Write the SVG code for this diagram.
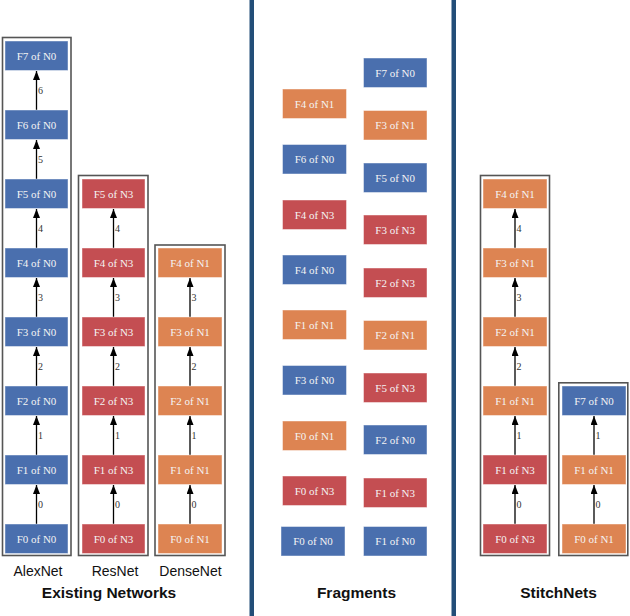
<svg xmlns="http://www.w3.org/2000/svg" width="630" height="616" viewBox="0 0 630 616">
<style>
.b{fill:#4a6fae}.r{fill:#c44e52}.o{fill:#dd8452}
rect.b,rect.r,rect.o{stroke:#ffffff;stroke-opacity:0.45;stroke-width:1}
.t{font-family:"Liberation Serif","Times New Roman",serif;font-size:11px;fill:#f4f4f4;text-anchor:middle}
.box{fill:none;stroke:#555;stroke-width:1.6}
.e{stroke:#000;stroke-width:1.3;marker-end:url(#ah)}
.el{font-family:"Liberation Serif","Times New Roman",serif;font-size:10px;fill:#333}
.lab{font-family:"Liberation Sans",Arial,sans-serif;font-size:14px;fill:#111;text-anchor:middle}
.ttl{font-family:"Liberation Sans",Arial,sans-serif;font-size:15.5px;font-weight:bold;fill:#111;text-anchor:middle}
.div{fill:#234e78}
</style>
<defs>
<marker id="ah" viewBox="0 0 9 7" refX="9" refY="3.5" markerWidth="9" markerHeight="7" markerUnits="userSpaceOnUse" orient="auto">
<path d="M0,0 L9,3.5 L0,7 z" fill="#000"/>
</marker>
</defs>
<rect width="630" height="616" fill="#fff"/>
<g id="dividers">
<rect class="div" x="249.5" y="0" width="4.5" height="616"/>
<rect class="div" x="451.5" y="0" width="4.5" height="616"/>
</g>
<g id="boxes">
<rect class="box" x="2.5" y="37.5" width="68.5" height="518"/>
<rect class="box" x="78.5" y="175.5" width="69.5" height="380"/>
<rect class="box" x="155" y="245" width="70" height="310.5"/>
<rect class="box" x="480.5" y="175.5" width="69" height="380"/>
<rect class="box" x="558.8" y="382.8" width="69" height="172.7"/>
</g>
<g id="connectors">
<line class="e" x1="36.5" y1="110" x2="36.5" y2="71"/><text class="el" x="38" y="93.5">6</text>
<line class="e" x1="36.5" y1="179" x2="36.5" y2="140"/><text class="el" x="38" y="162.5">5</text>
<line class="e" x1="36.5" y1="248" x2="36.5" y2="209"/><text class="el" x="38" y="231.5">4</text>
<line class="e" x1="36.5" y1="317" x2="36.5" y2="278"/><text class="el" x="38" y="300.5">3</text>
<line class="e" x1="36.5" y1="386" x2="36.5" y2="347"/><text class="el" x="38" y="369.5">2</text>
<line class="e" x1="36.5" y1="455" x2="36.5" y2="416"/><text class="el" x="38" y="438.5">1</text>
<line class="e" x1="36.5" y1="524" x2="36.5" y2="485"/><text class="el" x="38" y="507.5">0</text>
<line class="e" x1="113.5" y1="248" x2="113.5" y2="209"/><text class="el" x="115" y="231.5">4</text>
<line class="e" x1="113.5" y1="317" x2="113.5" y2="278"/><text class="el" x="115" y="300.5">3</text>
<line class="e" x1="113.5" y1="386" x2="113.5" y2="347"/><text class="el" x="115" y="369.5">2</text>
<line class="e" x1="113.5" y1="455" x2="113.5" y2="416"/><text class="el" x="115" y="438.5">1</text>
<line class="e" x1="113.5" y1="524" x2="113.5" y2="485"/><text class="el" x="115" y="507.5">0</text>
<line class="e" x1="190" y1="317" x2="190" y2="278"/><text class="el" x="191.5" y="300.5">3</text>
<line class="e" x1="190" y1="386" x2="190" y2="347"/><text class="el" x="191.5" y="369.5">2</text>
<line class="e" x1="190" y1="455" x2="190" y2="416"/><text class="el" x="191.5" y="438.5">1</text>
<line class="e" x1="190" y1="524" x2="190" y2="485"/><text class="el" x="191.5" y="507.5">0</text>
<line class="e" x1="515" y1="248" x2="515" y2="209"/><text class="el" x="516.5" y="231.5">4</text>
<line class="e" x1="515" y1="317" x2="515" y2="278"/><text class="el" x="516.5" y="300.5">3</text>
<line class="e" x1="515" y1="386" x2="515" y2="347"/><text class="el" x="516.5" y="369.5">2</text>
<line class="e" x1="515" y1="455" x2="515" y2="416"/><text class="el" x="516.5" y="438.5">1</text>
<line class="e" x1="515" y1="524" x2="515" y2="485"/><text class="el" x="516.5" y="507.5">0</text>
<line class="e" x1="594" y1="455" x2="594" y2="416"/><text class="el" x="595.5" y="438.5">1</text>
<line class="e" x1="594" y1="524" x2="594" y2="485"/><text class="el" x="595.5" y="507.5">0</text>
</g>
<g id="alexnet">
<g id="a7"><rect class="b" x="5" y="41" width="63" height="29.5"/><text class="t" x="36.5" y="59.5">F7 of N0</text></g>
<g id="a6"><rect class="b" x="5" y="110" width="63" height="29.5"/><text class="t" x="36.5" y="128.5">F6 of N0</text></g>
<g id="a5"><rect class="b" x="5" y="179" width="63" height="29.5"/><text class="t" x="36.5" y="197.5">F5 of N0</text></g>
<g id="a4"><rect class="b" x="5" y="248" width="63" height="29.5"/><text class="t" x="36.5" y="266.5">F4 of N0</text></g>
<g id="a3"><rect class="b" x="5" y="317" width="63" height="29.5"/><text class="t" x="36.5" y="335.5">F3 of N0</text></g>
<g id="a2"><rect class="b" x="5" y="386" width="63" height="29.5"/><text class="t" x="36.5" y="404.5">F2 of N0</text></g>
<g id="a1"><rect class="b" x="5" y="455" width="63" height="29.5"/><text class="t" x="36.5" y="473.5">F1 of N0</text></g>
<g id="a0"><rect class="b" x="5" y="524" width="63" height="29.5"/><text class="t" x="36.5" y="542.5">F0 of N0</text></g>
</g>
<g id="resnet">
<g id="r5"><rect class="r" x="82" y="179" width="63" height="29.5"/><text class="t" x="113.5" y="197.5">F5 of N3</text></g>
<g id="r4"><rect class="r" x="82" y="248" width="63" height="29.5"/><text class="t" x="113.5" y="266.5">F4 of N3</text></g>
<g id="r3"><rect class="r" x="82" y="317" width="63" height="29.5"/><text class="t" x="113.5" y="335.5">F3 of N3</text></g>
<g id="r2"><rect class="r" x="82" y="386" width="63" height="29.5"/><text class="t" x="113.5" y="404.5">F2 of N3</text></g>
<g id="r1"><rect class="r" x="82" y="455" width="63" height="29.5"/><text class="t" x="113.5" y="473.5">F1 of N3</text></g>
<g id="r0"><rect class="r" x="82" y="524" width="63" height="29.5"/><text class="t" x="113.5" y="542.5">F0 of N3</text></g>
</g>
<g id="densenet">
<g id="d4"><rect class="o" x="158" y="248" width="64" height="29.5"/><text class="t" x="190" y="266.5">F4 of N1</text></g>
<g id="d3"><rect class="o" x="158" y="317" width="64" height="29.5"/><text class="t" x="190" y="335.5">F3 of N1</text></g>
<g id="d2"><rect class="o" x="158" y="386" width="64" height="29.5"/><text class="t" x="190" y="404.5">F2 of N1</text></g>
<g id="d1"><rect class="o" x="158" y="455" width="64" height="29.5"/><text class="t" x="190" y="473.5">F1 of N1</text></g>
<g id="d0"><rect class="o" x="158" y="524" width="64" height="29.5"/><text class="t" x="190" y="542.5">F0 of N1</text></g>
</g>
<g id="fragments">
<g id="fr0"><rect class="b" x="363.5" y="58" width="63.5" height="29.5"/><text class="t" x="395.2" y="76.5">F7 of N0</text></g>
<g id="fr1"><rect class="o" x="363.5" y="110.5" width="63.5" height="29.5"/><text class="t" x="395.2" y="129">F3 of N1</text></g>
<g id="fr2"><rect class="b" x="363.5" y="163" width="63.5" height="29.5"/><text class="t" x="395.2" y="181.5">F5 of N0</text></g>
<g id="fr3"><rect class="r" x="363.5" y="215" width="63.5" height="29.5"/><text class="t" x="395.2" y="233.5">F3 of N3</text></g>
<g id="fr4"><rect class="r" x="363.5" y="268" width="63.5" height="29.5"/><text class="t" x="395.2" y="286.5">F2 of N3</text></g>
<g id="fr5"><rect class="o" x="363.5" y="320.5" width="63.5" height="29.5"/><text class="t" x="395.2" y="339">F2 of N1</text></g>
<g id="fr6"><rect class="r" x="363.5" y="373" width="63.5" height="29.5"/><text class="t" x="395.2" y="391.5">F5 of N3</text></g>
<g id="fr7"><rect class="b" x="363.5" y="425" width="63.5" height="29.5"/><text class="t" x="395.2" y="443.5">F2 of N0</text></g>
<g id="fr8"><rect class="r" x="363.5" y="478" width="63.5" height="29.5"/><text class="t" x="395.2" y="496.5">F1 of N3</text></g>
<g id="fr9"><rect class="b" x="363.5" y="526.5" width="63.5" height="29.5"/><text class="t" x="395.2" y="545">F1 of N0</text></g>
<g id="fl0"><rect class="o" x="282.5" y="89" width="64" height="29.5"/><text class="t" x="314.5" y="107.5">F4 of N1</text></g>
<g id="fl1"><rect class="b" x="282.5" y="144.5" width="64" height="29.5"/><text class="t" x="314.5" y="163">F6 of N0</text></g>
<g id="fl2"><rect class="r" x="282.5" y="200" width="64" height="29.5"/><text class="t" x="314.5" y="218.5">F4 of N3</text></g>
<g id="fl3"><rect class="b" x="282.5" y="255" width="64" height="29.5"/><text class="t" x="314.5" y="273.5">F4 of N0</text></g>
<g id="fl4"><rect class="o" x="282.5" y="310" width="64" height="29.5"/><text class="t" x="314.5" y="328.5">F1 of N1</text></g>
<g id="fl5"><rect class="b" x="282.5" y="365.5" width="64" height="29.5"/><text class="t" x="314.5" y="384">F3 of N0</text></g>
<g id="fl6"><rect class="o" x="282.5" y="421" width="64" height="29.5"/><text class="t" x="314.5" y="439.5">F0 of N1</text></g>
<g id="fl7"><rect class="r" x="282.5" y="476" width="64" height="29.5"/><text class="t" x="314.5" y="494.5">F0 of N3</text></g>
<g id="fl8"><rect class="b" x="281" y="526.5" width="64" height="29.5"/><text class="t" x="313" y="545">F0 of N0</text></g>
</g>
<g id="stitch1">
<g id="s14"><rect class="o" x="483" y="179" width="64" height="29.5"/><text class="t" x="515" y="197.5">F4 of N1</text></g>
<g id="s13"><rect class="o" x="483" y="248" width="64" height="29.5"/><text class="t" x="515" y="266.5">F3 of N1</text></g>
<g id="s12"><rect class="o" x="483" y="317" width="64" height="29.5"/><text class="t" x="515" y="335.5">F2 of N1</text></g>
<g id="s11"><rect class="o" x="483" y="386" width="64" height="29.5"/><text class="t" x="515" y="404.5">F1 of N1</text></g>
<g id="s10"><rect class="r" x="483" y="455" width="64" height="29.5"/><text class="t" x="515" y="473.5">F1 of N3</text></g>
<g id="s1b"><rect class="r" x="483" y="524" width="64" height="29.5"/><text class="t" x="515" y="542.5">F0 of N3</text></g>
</g>
<g id="stitch2">
<g id="s27"><rect class="b" x="562" y="386" width="64" height="29.5"/><text class="t" x="594" y="404.5">F7 of N0</text></g>
<g id="s21"><rect class="o" x="562" y="455" width="64" height="29.5"/><text class="t" x="594" y="473.5">F1 of N1</text></g>
<g id="s20"><rect class="o" x="562" y="524" width="64" height="29.5"/><text class="t" x="594" y="542.5">F0 of N1</text></g>
</g>
<g id="labels">
<text class="lab" x="38" y="576">AlexNet</text>
<text class="lab" x="115" y="576">ResNet</text>
<text class="lab" x="190.5" y="576">DenseNet</text>
<text class="ttl" x="109" y="597.5">Existing Networks</text>
<text class="ttl" x="356.5" y="597.5">Fragments</text>
<text class="ttl" x="558.5" y="597.5">StitchNets</text>
</g>
</svg>
